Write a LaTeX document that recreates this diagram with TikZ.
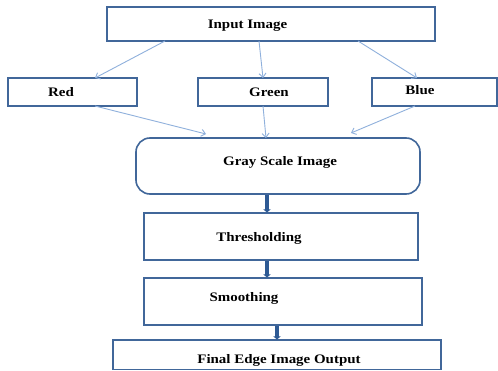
\documentclass[tikz,border=0pt]{standalone}
\usepackage{fontspec}
\setmainfont{Liberation Serif}[FakeStretch=1.15]
\usetikzlibrary{arrows.meta}
\definecolor{boxline}{HTML}{41679A}
\definecolor{thin}{HTML}{8FB0DC}
\definecolor{thick}{HTML}{2E5A94}
\begin{document}
\begin{tikzpicture}[x=1pt,y=-1pt,
  box/.style={draw=boxline,line width=1.6pt,fill=white},
  lbl/.style={font=\bfseries\fontsize{13}{15}\selectfont,inner sep=0pt,anchor=base},
  thinarrow/.style={draw=thin,line width=0.9pt,-{Straight Barb[length=4pt,width=7pt]}},
  thickarrow/.style={draw=thick,line width=3.2pt,-{Triangle[length=3pt,width=7pt]}}]
\useasboundingbox[fill=white] (0,0) rectangle (498,371);
\begin{scope}
\clip (0,0) rectangle (498,371);
% boxes
\draw[box] (107,7) rectangle (435,41);
\coordinate (inA) at (165,41); \coordinate (inB) at (259,41); \coordinate (inC) at (358,41);
\draw[box] (8,78) rectangle (137,106);
\draw[box] (198,78) rectangle (328,106);
\draw[box] (372,78) rectangle (497,106);
\coordinate (redT) at (95,78); \coordinate (greenT) at (263,78); \coordinate (blueT) at (417,78);
\coordinate (redB) at (95,106); \coordinate (greenB) at (263,106); \coordinate (blueB) at (415,106);
\draw[box,rounded corners=14pt] (136,138) rectangle (420,194);
\coordinate (grA) at (206,134); \coordinate (grB) at (266,138); \coordinate (grC) at (351,133);
\draw[box] (144,213) rectangle (418,260);
\draw[box] (144,278) rectangle (422,325);
\draw[box] (113,340) rectangle (441,369.5);
% labels
\node[lbl] (input) at (247.5,29) {Input Image};
\node[lbl] (red) at (61,97) {Red};
\node[lbl] (green) at (269,97) {Green};
\node[lbl] (blue) at (420,95) {Blue};
\node[lbl] (gray) at (280,166) {Gray Scale Image};
\node[lbl] (thr) at (259,242) {Thresholding};
\node[lbl] (smo) at (244,302) {Smoothing};
\node[lbl] (fin) at (279,363) {Final Edge Image Output};
% thin arrows
\draw[thinarrow] (inA) -- (redT);
\draw[thinarrow] (inB) -- (greenT);
\draw[thinarrow] (inC) -- (blueT);
\draw[thinarrow] (redB) -- (grA);
\draw[thinarrow] (greenB) -- (grB);
\draw[thinarrow] (blueB) -- (grC);
% thick connectors
\coordinate (g1) at (267,195); \coordinate (t1) at (267,212.5);
\coordinate (g2) at (267,261); \coordinate (t2) at (267,277.5);
\coordinate (g3) at (277,326); \coordinate (t3) at (277,339.5);
\draw[thickarrow] (g1) -- (t1);
\draw[thickarrow] (g2) -- (t2);
\draw[thickarrow] (g3) -- (t3);
\end{scope}
\end{tikzpicture}
\end{document}
